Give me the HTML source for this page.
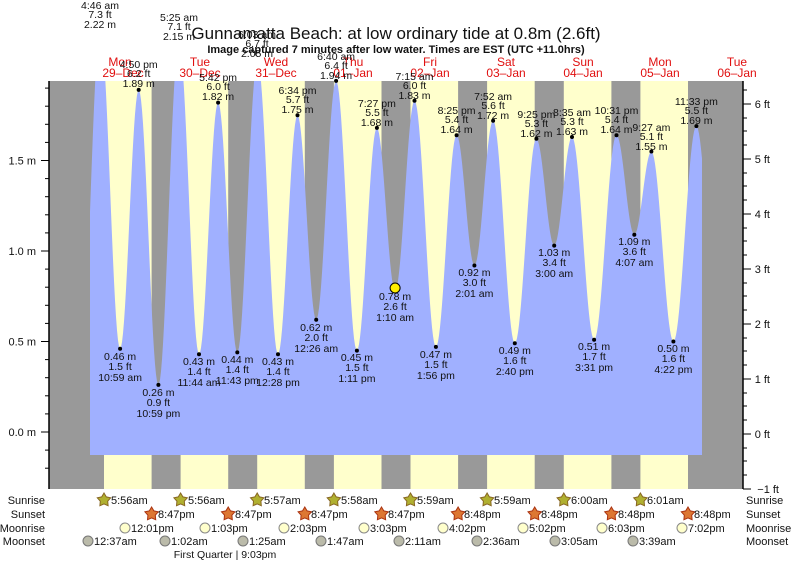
<!DOCTYPE html>
<html><head><meta charset="utf-8"><style>
body{margin:0;background:#fff;width:793px;height:563px;overflow:hidden}
svg{display:block;font-family:"Liberation Sans",sans-serif}
.l{font-size:10.5px;fill:#111;text-anchor:middle}
.d{font-size:12px;fill:#e01010;text-anchor:middle}
.r{font-size:11px;fill:#111}
</style></head><body>
<svg width="793" height="563" viewBox="0 0 793 563">
<defs><clipPath id="pc"><rect x="49" y="81" width="694" height="408"/></clipPath></defs>
<rect x="49" y="81" width="694" height="408" fill="#999"/>
<g fill="#ffffcc">
<rect x="104" y="81" width="47.6" height="408"/><rect x="180.6" y="81" width="47.6" height="408"/>
<rect x="257.2" y="81" width="47.6" height="408"/><rect x="333.9" y="81" width="47.6" height="408"/>
<rect x="410.5" y="81" width="47.6" height="408"/><rect x="487.1" y="81" width="47.6" height="408"/>
<rect x="563.8" y="81" width="47.6" height="408"/><rect x="640.4" y="81" width="47.6" height="408"/>
</g>
<path id="tide" fill="#a0b0ff" clip-path="url(#pc)" d=""/>
<g fill="#000">
<circle cx="120.1" cy="348.7" r="2"/><circle cx="138.7" cy="89.9" r="2"/><circle cx="158.4" cy="384.9" r="2"/>
<circle cx="199" cy="354.2" r="2"/><circle cx="218.1" cy="102.6" r="2"/><circle cx="237.3" cy="352.4" r="2"/>
<circle cx="278" cy="354.2" r="2"/><circle cx="297.5" cy="115.3" r="2"/><circle cx="316.2" cy="319.8" r="2"/>
<circle cx="336.1" cy="80.9" r="2"/><circle cx="356.9" cy="350.6" r="2"/><circle cx="376.9" cy="127.9" r="2"/>
<circle cx="414.5" cy="100.8" r="2"/><circle cx="435.9" cy="346.9" r="2"/><circle cx="456.6" cy="135.2" r="2"/>
<circle cx="474.4" cy="265.5" r="2"/><circle cx="493.1" cy="120.7" r="2"/><circle cx="514.8" cy="343.3" r="2"/>
<circle cx="536.4" cy="138.8" r="2"/><circle cx="554.2" cy="245.6" r="2"/><circle cx="572" cy="137" r="2"/>
<circle cx="594.1" cy="339.7" r="2"/><circle cx="616.5" cy="135.2" r="2"/><circle cx="634.3" cy="234.7" r="2"/>
<circle cx="651.4" cy="151.5" r="2"/><circle cx="673.4" cy="341.5" r="2"/><circle cx="696.4" cy="126.1" r="2"/>
</g>
<circle cx="395.1" cy="288" r="5" fill="#ffee00" stroke="#000"/>
<g stroke="#000" stroke-width="1.5"><line x1="49" y1="81" x2="49" y2="489"/><line x1="743" y1="81" x2="743" y2="489"/></g>
<g stroke="#000">
<line x1="41" y1="432" x2="49" y2="432"/><line x1="41" y1="341.5" x2="49" y2="341.5"/><line x1="41" y1="251" x2="49" y2="251"/><line x1="41" y1="160.5" x2="49" y2="160.5"/>
<line x1="45" y1="468.2" x2="49" y2="468.2"/><line x1="45" y1="450.1" x2="49" y2="450.1"/><line x1="45" y1="413.9" x2="49" y2="413.9"/><line x1="45" y1="395.8" x2="49" y2="395.8"/><line x1="45" y1="377.7" x2="49" y2="377.7"/><line x1="45" y1="359.6" x2="49" y2="359.6"/>
<line x1="45" y1="323.4" x2="49" y2="323.4"/><line x1="45" y1="305.3" x2="49" y2="305.3"/><line x1="45" y1="287.2" x2="49" y2="287.2"/><line x1="45" y1="269.1" x2="49" y2="269.1"/>
<line x1="45" y1="232.9" x2="49" y2="232.9"/><line x1="45" y1="214.8" x2="49" y2="214.8"/><line x1="45" y1="196.7" x2="49" y2="196.7"/><line x1="45" y1="178.6" x2="49" y2="178.6"/>
<line x1="45" y1="142.4" x2="49" y2="142.4"/><line x1="45" y1="124.3" x2="49" y2="124.3"/><line x1="45" y1="106.2" x2="49" y2="106.2"/><line x1="45" y1="88.1" x2="49" y2="88.1"/>
<line x1="743" y1="489" x2="751" y2="489"/><line x1="743" y1="434" x2="751" y2="434"/><line x1="743" y1="379" x2="751" y2="379"/><line x1="743" y1="324" x2="751" y2="324"/><line x1="743" y1="269" x2="751" y2="269"/><line x1="743" y1="214" x2="751" y2="214"/><line x1="743" y1="159" x2="751" y2="159"/><line x1="743" y1="104" x2="751" y2="104"/>
<line x1="743" y1="475" x2="747" y2="475"/><line x1="743" y1="461" x2="747" y2="461"/><line x1="743" y1="448" x2="747" y2="448"/>
<line x1="743" y1="420" x2="747" y2="420"/><line x1="743" y1="406" x2="747" y2="406"/><line x1="743" y1="393" x2="747" y2="393"/>
<line x1="743" y1="365" x2="747" y2="365"/><line x1="743" y1="351" x2="747" y2="351"/><line x1="743" y1="338" x2="747" y2="338"/>
<line x1="743" y1="310" x2="747" y2="310"/><line x1="743" y1="296" x2="747" y2="296"/><line x1="743" y1="283" x2="747" y2="283"/>
<line x1="743" y1="255" x2="747" y2="255"/><line x1="743" y1="241" x2="747" y2="241"/><line x1="743" y1="228" x2="747" y2="228"/>
<line x1="743" y1="200" x2="747" y2="200"/><line x1="743" y1="186" x2="747" y2="186"/><line x1="743" y1="173" x2="747" y2="173"/>
<line x1="743" y1="145" x2="747" y2="145"/><line x1="743" y1="131" x2="747" y2="131"/><line x1="743" y1="118" x2="747" y2="118"/>
<line x1="743" y1="90" x2="747" y2="90"/>
</g>
<g class="r" text-anchor="end">
<text x="36" y="436">0.0 m</text><text x="36" y="345.5">0.5 m</text><text x="36" y="255">1.0 m</text><text x="36" y="164.5">1.5 m</text>
</g>
<g class="r" text-anchor="end">
<text x="779" y="493">−1 ft</text><text x="770" y="438">0 ft</text><text x="770" y="383">1 ft</text><text x="770" y="328">2 ft</text><text x="770" y="273">3 ft</text><text x="770" y="218">4 ft</text><text x="770" y="163">5 ft</text><text x="770" y="108">6 ft</text>
</g>
<text x="396" y="39" text-anchor="middle" font-size="17" fill="#111">Gunnamatta Beach: at low  ordinary tide at 0.8m (2.6ft)</text>
<text x="396" y="53" text-anchor="middle" font-size="11" font-weight="bold" fill="#111">Image captured 7 minutes after low water. Times are EST (UTC +11.0hrs)</text>
<g class="d">
<text x="120" y="66">Mon</text><text x="123" y="77">29–Dec</text>
<text x="200" y="66">Tue</text><text x="200" y="77">30–Dec</text>
<text x="276" y="66">Wed</text><text x="276" y="77">31–Dec</text>
<text x="353" y="66">Thu</text><text x="353" y="77">01–Jan</text>
<text x="430" y="66">Fri</text><text x="430" y="77">02–Jan</text>
<text x="506" y="66">Sat</text><text x="506" y="77">03–Jan</text>
<text x="583" y="66">Sun</text><text x="583" y="77">04–Jan</text>
<text x="660" y="66">Mon</text><text x="660" y="77">05–Jan</text>
<text x="737" y="66">Tue</text><text x="737" y="77">06–Jan</text>
</g>
<g class="l">
<text x="100" y="9">4:46 am</text><text x="100" y="18">7.3 ft</text><text x="100" y="28">2.22 m</text>
<text x="179" y="21">5:25 am</text><text x="179" y="30">7.1 ft</text><text x="179" y="40">2.15 m</text>
<text x="257" y="38">6:03 am</text><text x="257" y="47">6.7 ft</text><text x="257" y="57">2.05 m</text>
<text x="138.7" y="68">4:50 pm</text><text x="138.7" y="77">6.2 ft</text><text x="138.7" y="87">1.89 m</text>
<text x="218.1" y="81">5:42 pm</text><text x="218.1" y="90">6.0 ft</text><text x="218.1" y="100">1.82 m</text>
<text x="297.5" y="94">6:34 pm</text><text x="297.5" y="103">5.7 ft</text><text x="297.5" y="113">1.75 m</text>
<text x="336.1" y="60">6:40 am</text><text x="336.1" y="69">6.4 ft</text><text x="336.1" y="79">1.94 m</text>
<text x="376.9" y="107">7:27 pm</text><text x="376.9" y="116">5.5 ft</text><text x="376.9" y="126">1.68 m</text>
<text x="414.5" y="80">7:15 am</text><text x="414.5" y="89">6.0 ft</text><text x="414.5" y="99">1.83 m</text>
<text x="456.6" y="114">8:25 pm</text><text x="456.6" y="123">5.4 ft</text><text x="456.6" y="133">1.64 m</text>
<text x="493.1" y="100">7:52 am</text><text x="493.1" y="109">5.6 ft</text><text x="493.1" y="119">1.72 m</text>
<text x="536.4" y="118">9:25 pm</text><text x="536.4" y="127">5.3 ft</text><text x="536.4" y="137">1.62 m</text>
<text x="572" y="116">8:35 am</text><text x="572" y="125">5.3 ft</text><text x="572" y="135">1.63 m</text>
<text x="616.5" y="114">10:31 pm</text><text x="616.5" y="123">5.4 ft</text><text x="616.5" y="133">1.64 m</text>
<text x="651.4" y="131">9:27 am</text><text x="651.4" y="140">5.1 ft</text><text x="651.4" y="150">1.55 m</text>
<text x="696.4" y="105">11:33 pm</text><text x="696.4" y="114">5.5 ft</text><text x="696.4" y="124">1.69 m</text>
</g>
<g class="l">
<text x="120.1" y="360">0.46 m</text><text x="120.1" y="370">1.5 ft</text><text x="120.1" y="381">10:59 am</text>
<text x="158.4" y="396">0.26 m</text><text x="158.4" y="406">0.9 ft</text><text x="158.4" y="417">10:59 pm</text>
<text x="199" y="365">0.43 m</text><text x="199" y="375">1.4 ft</text><text x="199" y="386">11:44 am</text>
<text x="237.3" y="363">0.44 m</text><text x="237.3" y="373">1.4 ft</text><text x="237.3" y="384">11:43 pm</text>
<text x="278" y="365">0.43 m</text><text x="278" y="375">1.4 ft</text><text x="278" y="386">12:28 pm</text>
<text x="316.2" y="331">0.62 m</text><text x="316.2" y="341">2.0 ft</text><text x="316.2" y="352">12:26 am</text>
<text x="356.9" y="361">0.45 m</text><text x="356.9" y="371">1.5 ft</text><text x="356.9" y="382">1:11 pm</text>
<text x="395.1" y="300">0.78 m</text><text x="395.1" y="310">2.6 ft</text><text x="395.1" y="321">1:10 am</text>
<text x="435.9" y="358">0.47 m</text><text x="435.9" y="368">1.5 ft</text><text x="435.9" y="379">1:56 pm</text>
<text x="474.4" y="276">0.92 m</text><text x="474.4" y="286">3.0 ft</text><text x="474.4" y="297">2:01 am</text>
<text x="514.8" y="354">0.49 m</text><text x="514.8" y="364">1.6 ft</text><text x="514.8" y="375">2:40 pm</text>
<text x="554.2" y="256">1.03 m</text><text x="554.2" y="266">3.4 ft</text><text x="554.2" y="277">3:00 am</text>
<text x="594.1" y="350">0.51 m</text><text x="594.1" y="360">1.7 ft</text><text x="594.1" y="371">3:31 pm</text>
<text x="634.3" y="245">1.09 m</text><text x="634.3" y="255">3.6 ft</text><text x="634.3" y="266">4:07 am</text>
<text x="673.4" y="352">0.50 m</text><text x="673.4" y="362">1.6 ft</text><text x="673.4" y="373">4:22 pm</text>
</g>
<g class="r">
<text x="45" y="504" text-anchor="end">Sunrise</text><text x="45" y="518" text-anchor="end">Sunset</text>
<text x="45" y="532" text-anchor="end">Moonrise</text><text x="45" y="545" text-anchor="end">Moonset</text>
<text x="746" y="504">Sunrise</text><text x="746" y="518">Sunset</text><text x="746" y="532">Moonrise</text><text x="746" y="545">Moonset</text>
</g>
<g id="stars"></g>
<g class="r" font-size="10.5">
<text x="111" y="504">5:56am</text><text x="188" y="504">5:56am</text><text x="264" y="504">5:57am</text><text x="341" y="504">5:58am</text>
<text x="417" y="504">5:59am</text><text x="494" y="504">5:59am</text><text x="571" y="504">6:00am</text><text x="647" y="504">6:01am</text>
<text x="158" y="518">8:47pm</text><text x="235" y="518">8:47pm</text><text x="311" y="518">8:47pm</text><text x="388" y="518">8:47pm</text>
<text x="464" y="518">8:48pm</text><text x="541" y="518">8:48pm</text><text x="618" y="518">8:48pm</text><text x="694" y="518">8:48pm</text>
<text x="131" y="532">12:01pm</text><text x="211" y="532">1:03pm</text><text x="290" y="532">2:03pm</text><text x="370" y="532">3:03pm</text>
<text x="449" y="532">4:02pm</text><text x="529" y="532">5:02pm</text><text x="608" y="532">6:03pm</text><text x="688" y="532">7:02pm</text>
<text x="94" y="545">12:37am</text><text x="171" y="545">1:02am</text><text x="249" y="545">1:25am</text><text x="327" y="545">1:47am</text>
<text x="405" y="545">2:11am</text><text x="483" y="545">2:36am</text><text x="561" y="545">3:05am</text><text x="639" y="545">3:39am</text>
</g>
<g stroke="#888" fill="#ffffcc">
<circle cx="125" cy="528" r="5"/><circle cx="205" cy="528" r="5"/><circle cx="284" cy="528" r="5"/><circle cx="364" cy="528" r="5"/>
<circle cx="443" cy="528" r="5"/><circle cx="523" cy="528" r="5"/><circle cx="602" cy="528" r="5"/><circle cx="682" cy="528" r="5"/>
</g>
<g stroke="#777" fill="#bbbbaa">
<circle cx="88" cy="541" r="5"/><circle cx="165" cy="541" r="5"/><circle cx="243" cy="541" r="5"/><circle cx="321" cy="541" r="5"/>
<circle cx="399" cy="541" r="5"/><circle cx="477" cy="541" r="5"/><circle cx="555" cy="541" r="5"/><circle cx="633" cy="541" r="5"/>
</g>
<text x="225" y="558" text-anchor="middle" font-size="10.5" fill="#111">First Quarter | 9:03pm</text>
</svg>
<script>
var E=[[-0.06,0.3],[0.198,2.22],[0.458,0.46],[0.701,1.89],[0.958,0.26],[1.226,2.15],[1.489,0.43],[1.738,1.82],[1.988,0.44],[2.252,2.05],[2.519,0.43],[2.774,1.75],[3.018,0.62],[3.278,1.94],[3.549,0.45],[3.810,1.68],[4.049,0.78],[4.302,1.83],[4.581,0.47],[4.851,1.64],[5.084,0.92],[5.328,1.72],[5.611,0.49],[5.892,1.62],[6.125,1.03],[6.358,1.63],[6.647,0.51],[6.938,1.64],[7.171,1.09],[7.394,1.55],[7.682,0.50],[7.981,1.69],[8.23,0.8]];
function Y(m){return 432-181*m}
var d="M90,455";
for(var x=90;x<=702;x+=1){var t=(x-85)/76.6;for(var i=0;i<E.length-1;i++){if(t>=E[i][0]&&t<=E[i+1][0]){var f=(t-E[i][0])/(E[i+1][0]-E[i][0]);var m=E[i][1]+(E[i+1][1]-E[i][1])*(1-Math.cos(Math.PI*f))/2;d+=" L"+x+","+Y(m).toFixed(1);break;}}}
d+=" L702,455 Z";document.getElementById("tide").setAttribute("d",d);
function star(cx,cy,r,fill,stroke){var p=[];for(var k=0;k<10;k++){var a=-Math.PI/2+k*Math.PI/5,rr=k%2?r*0.55:r;p.push((cx+rr*Math.cos(a)).toFixed(1)+","+(cy+rr*Math.sin(a)).toFixed(1));}
var s=document.createElementNS("http://www.w3.org/2000/svg","polygon");s.setAttribute("points",p.join(" "));s.setAttribute("fill",fill);s.setAttribute("stroke",stroke);document.getElementById("stars").appendChild(s);}
[104,180.6,257.2,333.9,410.5,487.1,563.8,640.4].forEach(function(x){star(x,500,7,"#b0b030","#886622")});
[151.6,228.2,304.8,381.5,458.1,534.7,611.4,688].forEach(function(x){star(x,514,7,"#dd7733","#aa3311")});
</script>
</body></html>
